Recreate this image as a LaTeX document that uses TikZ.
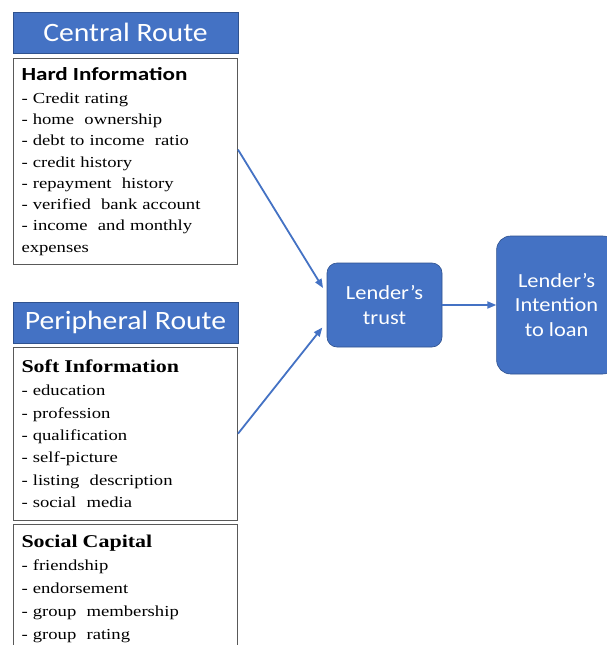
\documentclass[tikz,border=0pt]{standalone}
\usepackage{fontspec}
\setmainfont{Liberation Serif}[FakeStretch=1.22]
\newfontfamily\routefont{Carlito}[FakeStretch=1.12]
\newfontfamily\hardfont{Carlito}[FakeStretch=1.25]
\usetikzlibrary{arrows.meta,positioning}
\definecolor{routeblue}{HTML}{4472C4}
\definecolor{routeedge}{HTML}{2F528F}
\definecolor{fieldedge}{HTML}{595959}
\begin{document}
\begin{tikzpicture}[
    x=1pt, y=-1pt,
    node distance=0mm,
    route/.style={draw=routeedge, fill=routeblue, text=white, line width=0.6pt, minimum width=225pt, minimum height=41pt, inner sep=0pt, font=\routefont\fontsize{26.5}{30}\selectfont},
    field/.style={draw=fieldedge, line width=1pt, text width=208pt, align=left, inner xsep=8pt, inner ysep=9pt, font=\fontsize{15.3}{21.3}\selectfont},
    stage/.style={draw=routeedge, fill=routeblue, text=white, line width=0.6pt, align=center, inner sep=0pt, font=\routefont\fontsize{20}{24.5}\selectfont},
    link/.style={-{Triangle[length=9pt, width=7pt]}, draw=routeblue, line width=1.8pt}
]
\useasboundingbox (0,0) rectangle (606,645);
\fill[white] (0,0) rectangle (606,645);

\node[route] (central) at (125.5,32.5) {Central Route};
\node[field, below=5pt of central] (hard) {{\hardfont\bfseries\fontsize{18.5}{21}\selectfont Hard Information}\\[1pt]
- Credit rating\\- home\ \ ownership\\- debt to income\ \ ratio\\- credit history\\- repayment\ \ history\\- verified\ \ bank account\\- income\ \ and monthly\\expenses};

\node[route, below=37pt of hard] (periph) {Peripheral Route};
\node[field, below=3pt of periph, inner ysep=12.5pt, font=\fontsize{15.3}{22.4}\selectfont] (soft) {{\bfseries\fontsize{18}{21}\selectfont Soft Information}\\[1pt]
- education\\- profession\\- qualification\\- self-picture\\- listing\ \ description\\- social\ \ media};
\node[field, below=3pt of soft, inner ysep=11pt, font=\fontsize{15.3}{23.3}\selectfont] (social) {{\bfseries\fontsize{18}{21}\selectfont Social Capital}\\[-1pt]
- friendship\\- endorsement\\- group\ \ membership\\- group\ \ rating\\\mbox{}\\\mbox{}};

\node[stage, rounded corners=10pt, minimum width=115pt, minimum height=84pt] (trust) at (384.5,305) {Lender’s\\trust};
\node[stage, rounded corners=14pt, right=54pt of trust, minimum width=120pt, minimum height=138pt] (intent) {Lender’s\\Intention\\to loan};

\draw[link, shorten >=7pt] ([yshift=12pt]hard.east) -- ([yshift=11pt]trust.west);
\draw[link, shorten >=7pt] (soft.east) -- ([yshift=-17pt]trust.west);
\draw[link] (trust.east) -- (intent.west);
\end{tikzpicture}
\end{document}
